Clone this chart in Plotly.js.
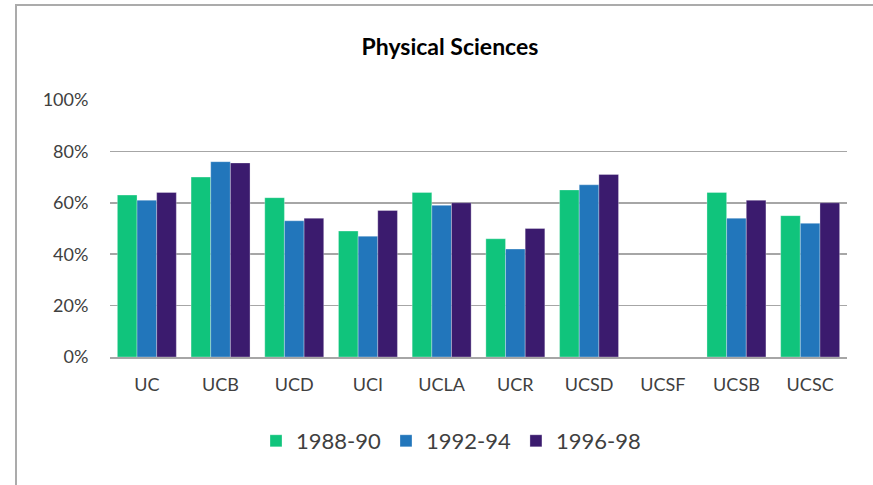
<!DOCTYPE html>
<html>
<head>
<meta charset="utf-8">
<script src="https://cdn.plot.ly/plotly-3.0.1.min.js"></script>
<style>
html,body{margin:0;padding:0;background:#fff;}
#wrap{position:relative;width:873px;height:485px;}
#frame{position:absolute;left:15px;top:4px;width:900px;height:600px;border-left:2px solid #ABABAB;border-top:2px solid #ABABAB;pointer-events:none;}
#chart{position:absolute;left:0;top:0;width:873px;height:485px;}
</style>
</head>
<body>
<div id="wrap"><div id="chart"></div><div id="frame"></div></div>
<script>
const categories = ["UC","UCB","UCD","UCI","UCLA","UCR","UCSD","UCSF","UCSB","UCSC"];
const seriesNames = ["1988-90","1992-94","1996-98"];
const v1988 = [0.63,0.70,0.62,0.49,0.64,0.46,0.65,null,0.64,0.55];
const v1992 = [0.61,0.76,0.53,0.47,0.59,0.42,0.67,null,0.54,0.52];
const v1996 = [0.64,0.755,0.54,0.57,0.60,0.50,0.71,null,0.61,0.60];
const colors = ["#10C47C","#2276BB","#3B1B6E"];
const yTicks = [0,0.2,0.4,0.6,0.8,1.0];
const yTickText = ["0%","20%","40%","60%","80%","100%"];

const data = [v1988, v1992, v1996].map((vals,i)=>({
  type:"bar", name:seriesNames[i], x:categories, y:vals,
  marker:{color:colors[i], line:{color:"rgba(255,255,255,0.6)", width:0.5}},
  hoverinfo:"x+y"
}));

const layout = {
  width:873, height:485,
  margin:{l:110, r:26, t:100, b:128},
  paper_bgcolor:"rgba(0,0,0,0)", plot_bgcolor:"#fff",
  font:{family:"Lato, 'Open Sans', sans-serif", color:"#404040", size:17},
  title:{text:"<b>Physical Sciences</b>", font:{size:23, color:"#000"}, x:450/873, xref:"container", y:1-47/485, yref:"container", yanchor:"middle", xanchor:"center"},
  barmode:"group", bargap:0.2, bargroupgap:0,
  xaxis:{type:"category", showgrid:false, showline:true, linecolor:"#A6A6A6", linewidth:1.5,
    ticks:"outside", ticklen:11, tickcolor:"rgba(0,0,0,0)", tickfont:{size:18, color:"#404040"}},
  yaxis:{range:[0,1], tickvals:yTicks, ticktext:yTickText, showgrid:true, gridcolor:"#A6A6A6", gridwidth:1.5,
    zeroline:false, showline:false, ticks:"outside", ticklen:17, tickcolor:"rgba(0,0,0,0)", tickfont:{size:18, color:"#404040"}},
  showlegend:true,
  legend:{orientation:"h", xref:"container", yref:"container", x:451/873, xanchor:"center", y:1-441/485, yanchor:"middle",
    font:{size:22, color:"#404040"}, itemwidth:20, traceorder:"normal"}
};
Plotly.newPlot("chart", data, layout, {displayModeBar:false, staticPlot:true});
</script>
</body>
</html>
